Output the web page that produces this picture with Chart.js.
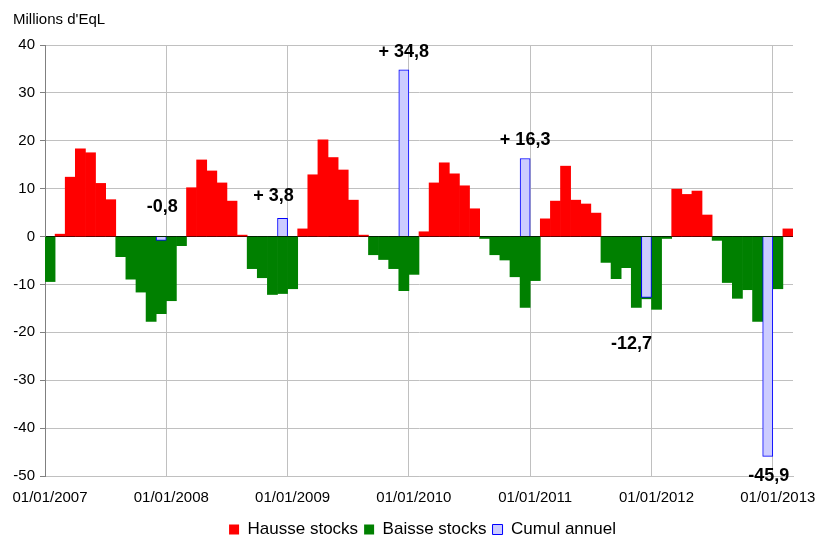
<!DOCTYPE html>
<html>
<head>
<meta charset="utf-8">
<script src="https://cdn.jsdelivr.net/npm/chart.js@4"></script>
<style>
  body { margin: 0; background: #fff; }
  #wrap { width: 817px; height: 535px; position: relative; }
</style>
</head>
<body>
<div id="wrap"><canvas id="chart"></canvas></div>
<script>
// tick labels on the date axis (one per year)
const yearTicks = ["01/01/2007", "01/01/2008", "01/01/2009", "01/01/2010", "01/01/2011", "01/01/2012", "01/01/2013"];

// monthly variations, Jan 2007 .. Feb 2013 (null = no bar in that series)
const hausse = [
    null, 0.5, 12.4, 18.3, 17.5, 11.1, 7.7, null, null, null, null, null,   // 2007
    null, null, 10.2, 16.0, 13.7, 11.2, 7.4, 0.3, null, null, null, null,   // 2008
    null, 1.6, 12.9, 20.2, 16.5, 13.9, 7.6, 0.3, null, null, null, null,    // 2009
    null, 1.0, 11.2, 15.4, 13.1, 10.6, 5.8, null, null, null, null, null,   // 2010
    null, 3.7, 7.4, 14.7, 7.6, 6.8, 4.9, null, null, null, null, null,      // 2011
    null, null, 9.9, 8.8, 9.5, 4.5, null, null, null, null, null, null,     // 2012
    null, 1.6                                                               // 2013
];
const baisse = [
    -9.4, null, null, null, null, null, null, -4.2, -8.9, -11.6, -17.7, -16.1,    // 2007
    -13.4, -1.9, null, null, null, null, null, null, -6.7, -8.6, -12.1, -11.9,    // 2008
    -10.9, null, null, null, null, null, null, null, -3.8, -4.8, -6.7, -11.3,     // 2009
    -7.9, null, null, null, null, null, null, -0.4, -3.8, -4.9, -8.4, -14.8,      // 2010
    -9.2, null, null, null, null, null, null, -5.4, -8.8, -6.5, -14.8, -13.0,     // 2011
    -15.2, -0.4, null, null, null, null, -0.8, -9.6, -12.9, -11.1, -17.7, -11.0,  // 2012
    -10.9, null                                                                   // 2013
];
// yearly total, shown on the December slot of each year
const cumul = [-0.8, 3.8, 34.8, 16.3, -12.7, -45.9];

// label placement relative to the end of each cumul bar [dx, dy] in px
const labelShift = [[1, -33], [-9, -22], [0, -18], [0, -18], [-15, 47], [1, 20]];

const monthPoints = arr => arr.map((v, i) => ({ x: i + 0.5, y: v }));
const cumulPoints = cumul.map((v, k) => ({ x: 12 * k + 11.5, y: v }));

function fmtCumul(v) {
    const s = Math.abs(v).toFixed(1).replace(".", ",");
    return v >= 0 ? "+ " + s : "-" + s;
}

Chart.defaults.font.family = "'Liberation Sans', Arial, sans-serif";
Chart.defaults.color = "#000";

// "Millions d'EqL" above the value axis
const unitTitle = {
    id: "unitTitle",
    afterDraw(chart) {
        const ctx = chart.ctx;
        ctx.save();
        ctx.font = "15px 'Liberation Sans', Arial, sans-serif";
        ctx.fillStyle = "#000";
        ctx.textBaseline = "alphabetic";
        ctx.fillText("Millions d'EqL", 13, 24);
        ctx.restore();
    }
};

// bold values next to the yearly bars
const cumulLabels = {
    id: "cumulLabels",
    afterDatasetsDraw(chart) {
        const meta = chart.getDatasetMeta(2);
        const ctx = chart.ctx;
        ctx.save();
        ctx.font = "bold 18px 'Liberation Sans', Arial, sans-serif";
        ctx.fillStyle = "#000";
        ctx.textAlign = "center";
        ctx.textBaseline = "middle";
        meta.data.forEach((bar, k) => {
            ctx.fillText(fmtCumul(cumul[k]), bar.x + labelShift[k][0], bar.y + labelShift[k][1]);
        });
        ctx.restore();
    }
};

// nudge the legend so it sits under the plot like in the original
const legendShift = {
    id: "legendShift",
    afterLayout(chart) {
        const lg = chart.legend;
        lg.left += 26; lg.right += 26;
        lg.top += 13; lg.bottom += 13;
    }
};

new Chart(document.getElementById("chart"), {
    type: "bar",
    data: {
        datasets: [
            {
                label: "Hausse stocks",
                data: monthPoints(hausse),
                backgroundColor: "#FF0000",
                borderWidth: 0,
                order: 1
            },
            {
                label: "Baisse stocks",
                data: monthPoints(baisse),
                backgroundColor: "#008000",
                borderWidth: 0,
                order: 1
            },
            {
                label: "Cumul annuel",
                data: cumulPoints,
                backgroundColor: "#CCCCFF",
                borderColor: "#0000FF",
                borderWidth: 1,
                order: 0
            }
        ]
    },
    options: {
        responsive: true,
        maintainAspectRatio: false,
        animation: false,
        datasets: {
            bar: { barPercentage: 1, categoryPercentage: 1, grouped: false }
        },
        layout: { padding: { left: 0, right: 24, top: 45, bottom: 0 } },
        plugins: {
            tooltip: { enabled: false },
            legend: {
                position: "bottom",
                labels: {
                    boxWidth: 10,
                    boxHeight: 10,
                    padding: 6,
                    font: { size: 17 },
                    sort: (a, b) => a.datasetIndex - b.datasetIndex
                }
            }
        },
        scales: {
            x: {
                type: "linear",
                min: 0,
                max: 74,
                offset: false,
                afterBuildTicks: axis => {
                    axis.ticks = yearTicks.map((t, k) => ({ value: 12 * k }));
                },
                afterFit: axis => {
                    axis.height = 26;
                    axis.paddingLeft = 0;
                    axis.paddingRight = 0;
                },
                ticks: {
                    callback: v => yearTicks[Math.round(v / 12)],
                    font: { size: 15 },
                    labelOffset: 5,
                    maxRotation: 0,
                    autoSkip: false,
                    padding: 13
                },
                grid: { color: "#C0C0C0", drawTicks: false, offset: false },
                border: { color: "#C0C0C0" }
            },
            y: {
                min: -50,
                max: 40,
                afterFit: axis => { axis.width = 45; },
                ticks: { stepSize: 10, font: { size: 15 }, padding: 5 },
                grid: {
                    color: c => (c.tick && c.tick.value === 0 ? "#000000" : "#C0C0C0"),
                    tickColor: "#808080",
                    tickLength: 5
                },
                border: { color: "#808080", width: 1 }
            }
        }
    },
    plugins: [unitTitle, cumulLabels, legendShift]
});
</script>
</body>
</html>
